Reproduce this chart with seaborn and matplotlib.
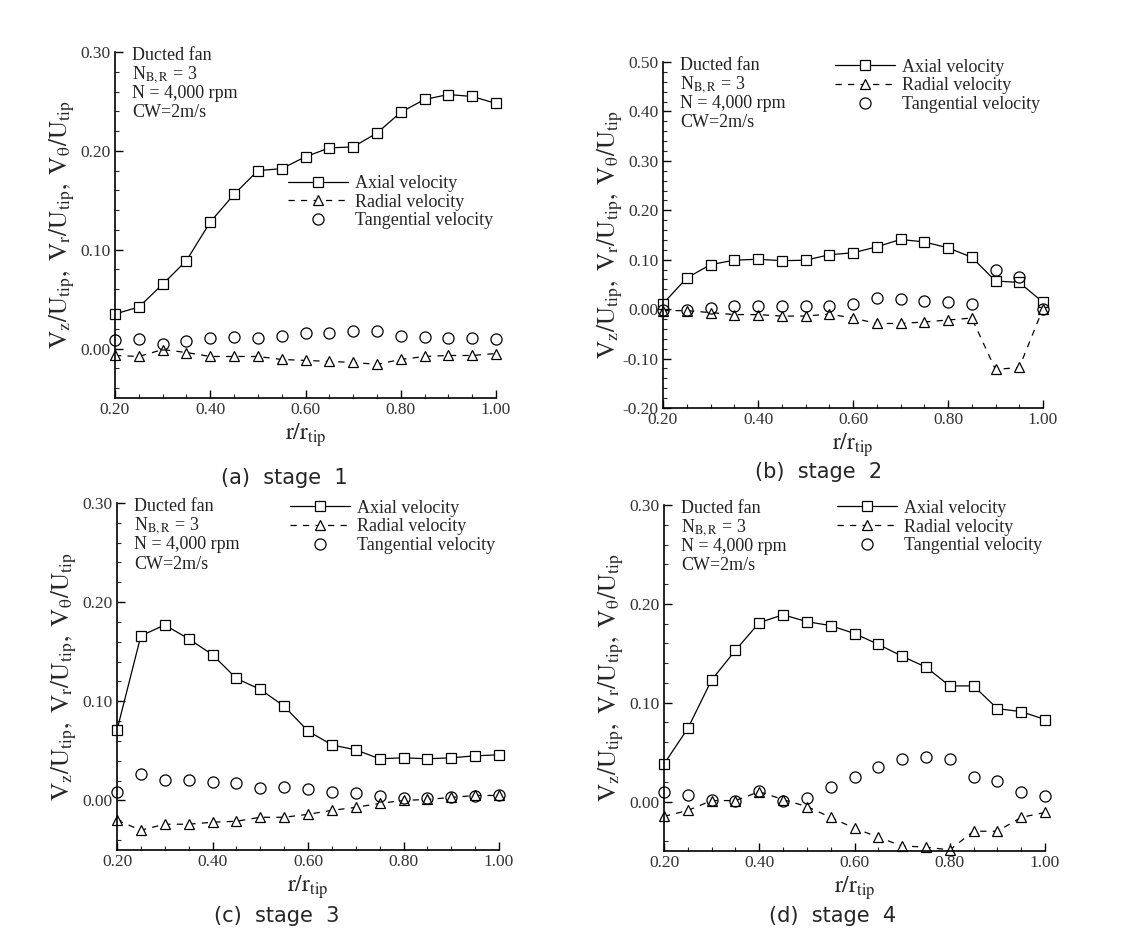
import numpy as np
import pandas as pd
import seaborn as sns
import matplotlib.pyplot as plt
from matplotlib.ticker import MultipleLocator, FormatStrFormatter

# radial stations r/r_tip
r = [0.20, 0.25, 0.30, 0.35, 0.40, 0.45, 0.50, 0.55, 0.60,
     0.65, 0.70, 0.75, 0.80, 0.85, 0.90, 0.95, 1.00]

# stage 1
axial_1 = [0.035, 0.042, 0.065, 0.089, 0.128, 0.156, 0.180, 0.182, 0.194,
           0.203, 0.204, 0.218, 0.239, 0.252, 0.257, 0.255, 0.248]
radial_1 = [-0.007, -0.008, -0.001, -0.004, -0.008, -0.008, -0.008, -0.011, -0.012,
            -0.013, -0.014, -0.016, -0.011, -0.008, -0.007, -0.007, -0.005]
tang_1 = [0.009, 0.010, 0.005, 0.008, 0.011, 0.012, 0.011, 0.013, 0.016,
          0.016, 0.018, 0.018, 0.013, 0.012, 0.011, 0.011, 0.010]

# stage 2
axial_2 = [0.011, 0.063, 0.090, 0.099, 0.101, 0.098, 0.099, 0.110, 0.114,
           0.126, 0.141, 0.136, 0.124, 0.105, 0.057, 0.054, 0.014]
radial_2 = [-0.003, -0.003, -0.007, -0.011, -0.011, -0.014, -0.014, -0.010, -0.018,
            -0.029, -0.029, -0.026, -0.022, -0.018, -0.122, -0.118, 0.001]
tang_2 = [-0.002, -0.002, 0.003, 0.007, 0.007, 0.007, 0.007, 0.007, 0.010,
          0.022, 0.021, 0.017, 0.014, 0.010, 0.080, 0.066, 0.000]

# stage 3
axial_3 = [0.071, 0.166, 0.177, 0.163, 0.147, 0.123, 0.112, 0.095, 0.070,
           0.056, 0.051, 0.042, 0.043, 0.042, 0.043, 0.045, 0.046]
radial_3 = [-0.020, -0.030, -0.024, -0.024, -0.022, -0.021, -0.017, -0.017, -0.014,
            -0.010, -0.007, -0.003, 0.000, 0.001, 0.003, 0.005, 0.005]
tang_3 = [0.008, 0.027, 0.021, 0.021, 0.019, 0.018, 0.013, 0.014, 0.012,
          0.009, 0.007, 0.004, 0.002, 0.002, 0.003, 0.004, 0.005]

# stage 4
axial_4 = [0.038, 0.074, 0.123, 0.153, 0.181, 0.189, 0.182, 0.178, 0.170,
           0.159, 0.147, 0.136, 0.117, 0.117, 0.094, 0.091, 0.083]
radial_4 = [-0.015, -0.009, 0.001, 0.001, 0.010, 0.002, -0.005, -0.016, -0.027,
            -0.036, -0.045, -0.046, -0.049, -0.030, -0.030, -0.016, -0.011]
tang_4 = [0.010, 0.007, 0.002, 0.001, 0.011, 0.001, 0.004, 0.015, 0.025,
          0.035, 0.043, 0.045, 0.043, 0.025, 0.021, 0.010, 0.006]

captions = ["(a)  stage  1", "(b)  stage  2", "(c)  stage  3", "(d)  stage  4"]
info_lines = ["Ducted fan", r"N$_{\rm B,R}$ = 3", "N = 4,000 rpm", "CW=2m/s"]
legend_labels = ["Axial velocity", "Radial velocity", "Tangential velocity"]

W, H = 1122, 936

sns.set_theme(style="ticks")
plt.rcParams["font.family"] = ["Liberation Serif", "DejaVu Serif"]
plt.rcParams["mathtext.fontset"] = "stix"

fig = plt.figure(figsize=(W / 100, H / 100), dpi=100)
fig.patch.set_facecolor("white")


def px_rect(left, right, top, bottom):
    return [left / W, 1 - bottom / H, (right - left) / W, (bottom - top) / H]


panels = [
    dict(rect=(115, 496, 52, 398), ylim=(-0.05, 0.30), data=(axial_1, radial_1, tang_1),
         leg=(0.454, 0.645), cap=(284, 478)),
    dict(rect=(663, 1043, 62, 408), ylim=(-0.20, 0.50), data=(axial_2, radial_2, tang_2),
         leg=(0.453, 1.01), cap=(819, 472)),
    dict(rect=(117, 499, 503, 850), ylim=(-0.05, 0.30), data=(axial_3, radial_3, tang_3),
         leg=(0.453, 1.01), cap=(277, 916)),
    dict(rect=(664, 1045, 505, 851), ylim=(-0.05, 0.30), data=(axial_4, radial_4, tang_4),
         leg=(0.454, 1.015), cap=(833, 916)),
]

ylabel = r"$\mathrm{V_z/U_{tip},\ V_r/U_{tip},\ V_\theta/U_{tip}}$"
xlabel = r"$\mathrm{r/r_{tip}}$"

for p, cap in zip(panels, captions):
    ax = fig.add_axes(px_rect(*p["rect"]))
    ax.set_facecolor("white")
    axial, radial, tang = p["data"]

    sns.lineplot(x=r, y=axial, ax=ax, color="black", lw=0.9, marker="s", ms=6.5,
                 mfc="white", mec="black", mew=0.9, errorbar=None, clip_on=False,
                 label=legend_labels[0])
    sns.lineplot(x=r, y=radial, ax=ax, color="black", lw=0.9, linestyle=(0, (5, 5)),
                 marker="^", ms=7, mfc="white", mec="black", mew=0.9, errorbar=None,
                 clip_on=False, label=legend_labels[1])
    sns.lineplot(x=r, y=tang, ax=ax, color="black", linestyle="none", marker="o", ms=8,
                 mfc="none", mec="black", mew=0.9, errorbar=None, clip_on=False,
                 label=legend_labels[2])

    ax.set_xlim(0.20, 1.00)
    ax.set_ylim(*p["ylim"])
    ax.xaxis.set_major_locator(MultipleLocator(0.2))
    ax.xaxis.set_minor_locator(MultipleLocator(0.05))
    ax.yaxis.set_major_locator(MultipleLocator(0.1))
    ax.yaxis.set_minor_locator(MultipleLocator(0.02))
    ax.xaxis.set_major_formatter(FormatStrFormatter("%.2f"))
    ax.yaxis.set_major_formatter(FormatStrFormatter("%.2f"))
    ax.tick_params(which="major", direction="in", length=5.5, width=1, pad=3,
                   labelsize=12.5, colors="black")
    ax.tick_params(which="major", labelcolor="#333333")
    ax.tick_params(which="minor", direction="in", length=3, width=0.8)
    sns.despine(ax=ax)
    for s in ("left", "bottom"):
        ax.spines[s].set_color("black")
        ax.spines[s].set_linewidth(1.2)

    ax.set_xlabel(xlabel, fontsize=17, labelpad=2)
    ax.set_ylabel(ylabel, fontsize=18)
    ax.yaxis.set_label_coords(-0.10, 0.5)

    for ytxt, line in zip([0.989, 0.935, 0.881, 0.824], info_lines):
        ax.text(0.045, ytxt, line, transform=ax.transAxes, fontsize=13,
                va="center", ha="left", color="#222222")

    ax.legend(loc="upper left", bbox_to_anchor=p["leg"], frameon=False, fontsize=13,
              handlelength=3.3, handletextpad=0.4, labelspacing=0.1, borderpad=0,
              borderaxespad=0)

    fig.text(p["cap"][0] / W, 1 - p["cap"][1] / H, cap, ha="center", va="center",
             fontsize=15, family=["DejaVu Sans"])

fig.savefig("out.png", dpi=100, facecolor="white")
